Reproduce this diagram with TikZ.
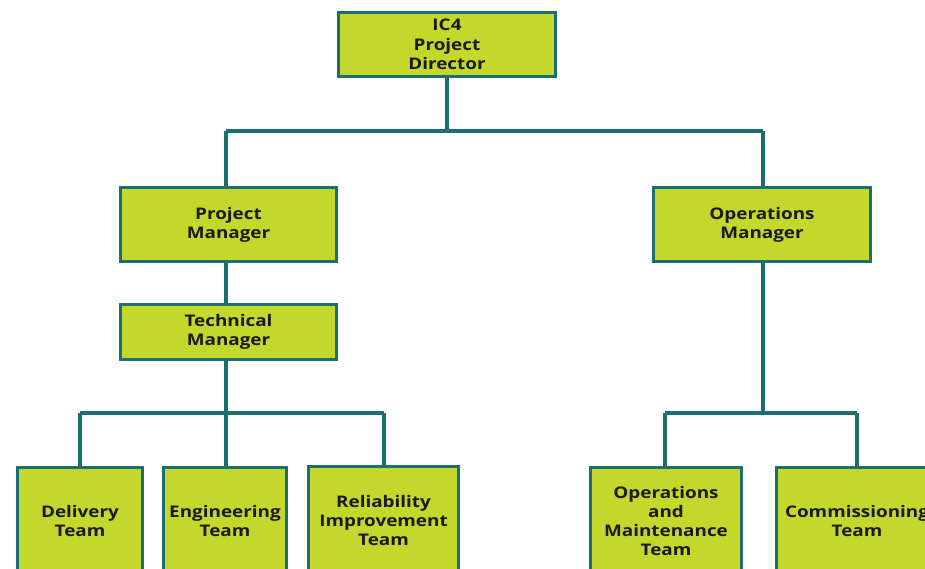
\documentclass[tikz,border=0pt]{standalone}
\usepackage{fontspec}
\setmainfont{Open Sans}[BoldFont={* Bold},BoldFeatures={FakeStretch=1.18}]
\definecolor{boxfill}{HTML}{C3D82A}
\definecolor{boxline}{HTML}{1B6F70}
\definecolor{txt}{HTML}{1A1A1A}
\begin{document}
\begin{tikzpicture}[x=1pt,y=-1pt,
  orgbox/.style={draw=boxline, fill=boxfill, line width=3pt, rectangle, align=center,
    text=txt, font=\bfseries\fontsize{16}{19.3}\selectfont, inner sep=0pt},
  conn/.style={draw=boxline, line width=3.4pt}]
\useasboundingbox (0,0) rectangle (925,568);
\clip (0,0) rectangle (925,568);
% connectors first
\coordinate (j1) at (447,131);
\coordinate (j1l) at (226,131);
\coordinate (j1r) at (763,131);
\coordinate (j2) at (226,413);
\coordinate (j2l) at (80,413);
\coordinate (j2r) at (384,413);
\coordinate (j3) at (763,413);
\coordinate (j3l) at (665,413);
\coordinate (j3r) at (857,413);
% nodes
\node[orgbox, minimum width=217, minimum height=64] (dir) at (447,44.5) {IC4\\Project\\Director};
\node[orgbox, minimum width=216, minimum height=74] (pm) at (228.5,224.5) {Project\\Manager};
\node[orgbox, minimum width=217, minimum height=74] (om) at (762,224.5) {Operations\\Manager};
\node[orgbox, minimum width=216, minimum height=55] (tm) at (228.5,332) {Technical\\Manager};
\node[orgbox, minimum width=125, minimum height=107] (dt) at (80,521) {Delivery\\Team};
\node[orgbox, minimum width=123, minimum height=107] (et) at (225,521) {Engineering\\Team};
\node[orgbox, minimum width=150, minimum height=108] (rt) at (383.5,520.5) {Reliability\\Improvement\\Team};
\node[orgbox, minimum width=151, minimum height=107] (ot) at (666,521) {Operations\\and\\Maintenance\\Team};
\node[orgbox, minimum width=161, minimum height=107] (ct) at (857,521) {Commissioning\\Team};
% connectors
\begin{scope}[on background layer/.style={}]
\end{scope}
\draw[conn] (dir.south) -- (j1);
\draw[conn] (j1l) -- (j1r);
\draw[conn] (j1l) -- (pm.north -| j1l);
\draw[conn] (j1r) -- (om.north -| j1r);
\draw[conn] (pm.south -| j2) -- (tm.north -| j2);
\draw[conn] (tm.south -| j2) -- (j2);
\draw[conn] (j2l) -- (j2r);
\draw[conn] (j2l) -- (dt.north -| j2l);
\draw[conn] (j2) -- (et.north -| j2);
\draw[conn] (j2r) -- (rt.north -| j2r);
\draw[conn] (om.south -| j3) -- (j3);
\draw[conn] (j3l) -- (j3r);
\draw[conn] (j3l) -- (ot.north -| j3l);
\draw[conn] (j3r) -- (ct.north -| j3r);
\end{tikzpicture}
\end{document}
